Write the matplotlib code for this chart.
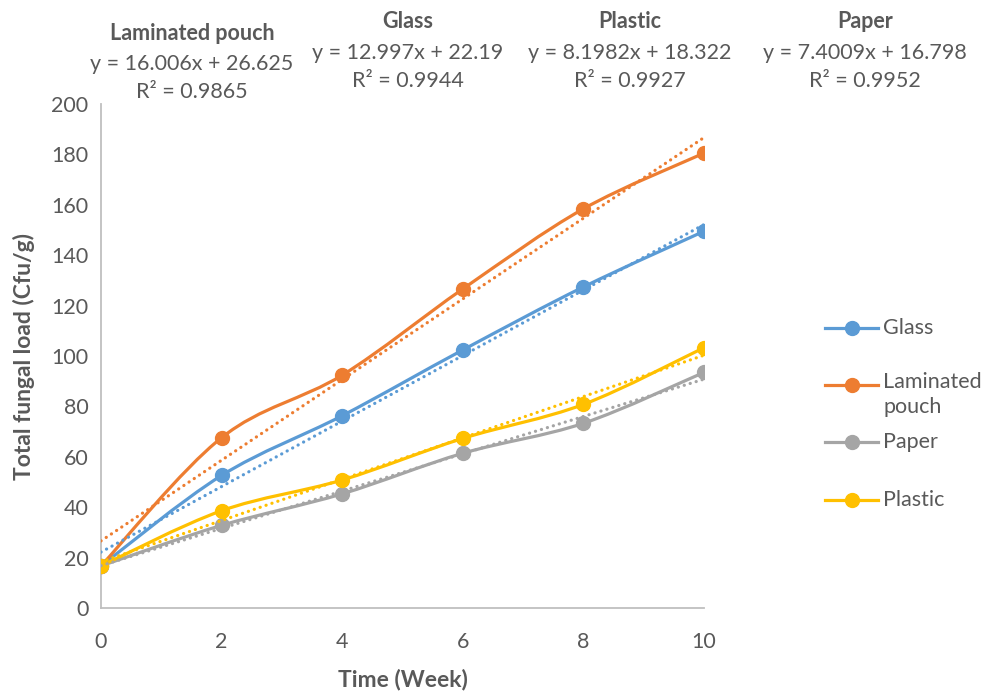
import numpy as np
import matplotlib
matplotlib.use("Agg")
import matplotlib.pyplot as plt
from matplotlib.path import Path
from matplotlib.patches import PathPatch
from matplotlib.lines import Line2D

plt.rcParams['font.family'] = ['Lato', 'DejaVu Sans']

# data
weeks = [0, 2, 4, 6, 8, 10]
glass = [16.7, 52.6, 76.3, 102.4, 127.4, 149.5]
laminated = [16.7, 67.6, 92.4, 126.6, 158.4, 180.5]
paper = [16.7, 32.8, 45.3, 61.4, 73.3, 93.5]
plastic = [16.7, 38.6, 50.8, 67.3, 80.8, 103.3]

names = ['Glass', 'Laminated pouch', 'Paper', 'Plastic']
colors = ['#5B9BD5', '#ED7D31', '#A5A5A5', '#FFC000']

# linear trendlines shown on the chart
slopes = [12.997, 16.006, 7.4009, 8.1982]
intercepts = [22.19, 26.625, 16.798, 18.322]
r2 = [0.9944, 0.9865, 0.9952, 0.9927]

grey_txt = '#595959'
fs = 15.5


def smooth_path(x, y):
    # excel-like smoothed line (catmull-rom -> cubic bezier)
    p = np.column_stack([x, y]).astype(float)
    n = len(p)
    verts = [p[0]]
    codes = [Path.MOVETO]
    for i in range(n - 1):
        p0 = p[i - 1] if i > 0 else p[i]
        p3 = p[i + 2] if i + 2 < n else p[i + 1]
        c1 = p[i] + (p[i + 1] - p0) / 6
        c2 = p[i + 1] - (p3 - p[i]) / 6
        verts += [c1, c2, p[i + 1]]
        codes += [Path.CURVE4] * 3
    return Path(verts, codes)


fig = plt.figure(figsize=(9.88, 6.91), dpi=100)
ax = fig.add_axes([101 / 988, 1 - 608 / 691, 603 / 988, 504 / 691])

series = [glass, laminated, paper, plastic]
for vals, c in zip(series, colors):
    patch = PathPatch(smooth_path(weeks, vals), fill=False, edgecolor=c,
                      lw=2.3, capstyle='round', joinstyle='round', zorder=2)
    ax.add_patch(patch)
    ax.plot(weeks, vals, 'o', color=c, ms=10, zorder=3)

xt = np.array([weeks[0], weeks[-1]])
for m, b, c in zip(slopes, intercepts, colors):
    ax.plot(xt, m * xt + b, color=c, lw=2.3, linestyle=(0, (0.05, 1.9)),
            dash_capstyle='round', zorder=4)

ax.set_xlim(0, 10)
ax.set_ylim(0, 200)
ax.set_xticks(range(0, 11, 2))
ax.set_yticks(range(0, 201, 20))
ax.tick_params(length=0, labelsize=fs, labelcolor=grey_txt, pad=9)
ax.tick_params(axis='x', pad=17)
for s in ['top', 'right']:
    ax.spines[s].set_visible(False)
for s in ['left', 'bottom']:
    ax.spines[s].set_color('#BFBFBF')
    ax.spines[s].set_linewidth(1.3)

ax.set_xlabel('Time (Week)', fontsize=16.5, fontweight='bold', color=grey_txt, va='center')
ax.xaxis.set_label_coords(0.5, (608 - 679) / 504)
ax.set_ylabel('Total fungal load (Cfu/g)', fontsize=16.5, fontweight='bold', color=grey_txt, labelpad=12)

# trendline equations above the plot
eq_pos = {'Laminated pouch': (192, 33), 'Glass': (408, 22),
          'Plastic': (630, 22), 'Paper': (865, 22)}
for name, m, b, r in zip(names, slopes, intercepts, r2):
    px, py = eq_pos[name]
    fx = px / 988
    fig.text(fx, 1 - py / 691, name, ha='center', va='center',
             fontsize=fs, fontweight='bold', color=grey_txt)
    fig.text(fx, 1 - (py + 31) / 691, f'y = {m:g}x + {b:g}', ha='center', va='center',
             fontsize=fs, color=grey_txt)
    fig.text(fx, 1 - (py + 59) / 691, f'R² = {r:.4f}', ha='center', va='center',
             fontsize=fs, color=grey_txt)

# legend on the right
leg_y = {'Glass': 328, 'Laminated pouch': 385, 'Paper': 442, 'Plastic': 500}
leg_lab = {'Laminated pouch': 'Laminated\npouch'}
for name, c in zip(names, colors):
    yy = 1 - leg_y[name] / 691
    fig.add_artist(Line2D([825 / 988, 878 / 988], [yy, yy], color=c, lw=2.3,
                          transform=fig.transFigure))
    fig.add_artist(Line2D([851.5 / 988], [yy], color=c, marker='o', ms=10,
                          transform=fig.transFigure))
    if name in leg_lab:
        fig.text(883 / 988, yy + 13 / 691, leg_lab[name], ha='left', va='top',
                 fontsize=fs, color=grey_txt, linespacing=1.3)
    else:
        fig.text(883 / 988, yy, name, ha='left', va='center',
                 fontsize=fs, color=grey_txt)

fig.savefig('out.png', dpi=100)
